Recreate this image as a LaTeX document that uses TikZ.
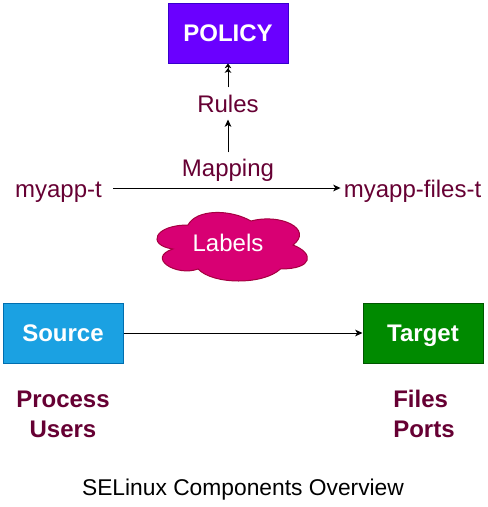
\documentclass[tikz,border=0pt]{standalone}
\usepackage{fontspec}
\setmainfont{Liberation Sans}
\usetikzlibrary{arrows.meta,calc}
\definecolor{policyfill}{HTML}{6A00FF}
\definecolor{policyline}{HTML}{3700CC}
\definecolor{srcfill}{HTML}{1BA1E2}
\definecolor{srcline}{HTML}{006EAF}
\definecolor{tgtfill}{HTML}{008A00}
\definecolor{tgtline}{HTML}{005700}
\definecolor{cloudfill}{HTML}{D80073}
\definecolor{cloudline}{HTML}{A50040}
\definecolor{maroon}{HTML}{660033}
\begin{document}
\begin{tikzpicture}[x=0.75pt,y=-0.75pt,
  box/.style={draw, line width=0.75pt, minimum width=90pt, minimum height=45pt, inner sep=0pt,
    text=white, font=\fontsize{18}{21}\selectfont\bfseries, text height=12.9pt, text depth=0pt},
  lbl/.style={inner sep=0pt, anchor=base, text=maroon, font=\fontsize{18}{21}\selectfont},
  blbl/.style={lbl, font=\fontsize{18}{21}\selectfont\bfseries},
  arr/.style={line width=0.75pt, -{Stealth[length=5.5pt,width=5pt,inset=1.5pt]}},
  darr/.style={line width=0.75pt, -{Stealth[length=3.5pt,width=5pt,inset=1pt]Stealth[length=3.5pt,width=5pt,inset=1pt]}}
]
\useasboundingbox (0,0) rectangle (487,507);

% boxes
\node[box, fill=policyfill, draw=policyline] (policy) at (228,33) {POLICY};
\node[box, fill=srcfill, draw=srcline] (source) at (63,333) {Source};
\node[box, fill=tgtfill, draw=tgtline] (target) at (423,333) {Target};

% labels
\node[lbl] (rules) at (228,112) {Rules};
\node[lbl] (mapping) at (228,176) {Mapping};
\node[lbl] (myt) at (58.5,197) {myapp-t};
\node[lbl] (myft) at (412.5,197) {myapp-files-t};

% cloud
\path[fill=cloudfill, draw=cloudline, line width=0.75pt]
  (188,225) .. controls (154.4,225) and (146,245) .. (172.88,249)
  .. controls (146,257.8) and (176.24,277) .. (198.08,269)
  .. controls (213.2,285) and (263.6,285) .. (280.4,269)
  .. controls (314,269) and (314,253) .. (293,245)
  .. controls (314,229) and (280.4,213) .. (251,221)
  .. controls (230,209) and (196.4,209) .. (188,225) -- cycle;
\node[lbl, text=white] (labels) at (228,251) {Labels};

% bottom texts
\node[blbl] (process) at (63,407) {Process};
\node[blbl] (users) at (63,437) {Users};
\node[blbl, anchor=base west] (files) at (393,407) {Files};
\node[blbl, anchor=base west] (ports) at (393,437) {Ports};
\node[inner sep=0pt, anchor=base, font=\fontsize{17.1}{20}\selectfont] (caption) at (243,495) {SELinux Components Overview};

% connectors
\coordinate (hline) at (0,188);
\draw[arr] ($(myt.east |- hline)+(11,0)$) -- ($(myft.west |- hline)+(-3,0)$);
\draw[arr, shorten <=4.5pt, shorten >=5.25pt] (mapping.north) -- (rules.south);
\draw[darr, shorten <=5.25pt] (rules.north) -- (policy.south);
\draw[arr] (source.east) -- (target.west);
\end{tikzpicture}
\end{document}
